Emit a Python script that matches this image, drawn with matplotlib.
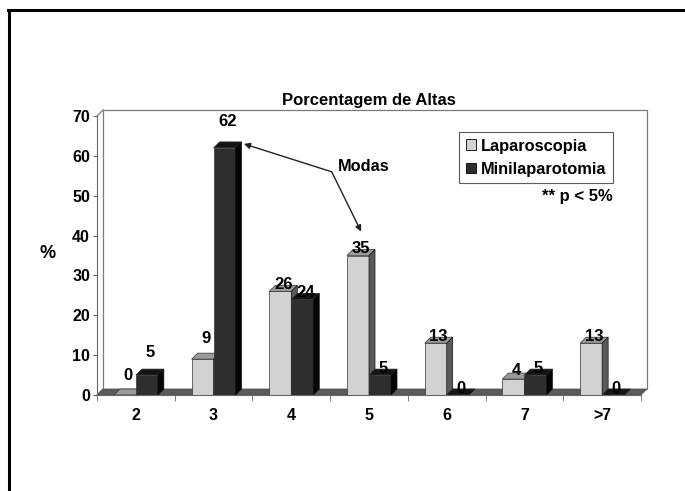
import numpy as np
import matplotlib
matplotlib.use("Agg")
import matplotlib.pyplot as plt
from matplotlib.patches import Polygon, Patch
from matplotlib.lines import Line2D

plt.rcParams['font.family'] = ['Liberation Sans', 'DejaVu Sans']
plt.rcParams['font.weight'] = 'bold'

# data
categories = ["2", "3", "4", "5", "6", "7", ">7"]
laparoscopia = [0, 9, 26, 35, 13, 4, 13]
minilaparotomia = [5, 62, 24, 5, 0, 5, 0]
series_names = ["Laparoscopia", "Minilaparotomia"]
title = "Porcentagem de Altas"

# label lift above bar top (points), as in the original
lift_lap = [14, 15, 5, 5, 5, 6, 5]
lift_mini = [16, 19, 5, 5, 5, 5, 5]

# styles (front, top, side)
light_faces = ("#d2d2d2", "#9a9a9a", "#5a5a5a")
dark_faces = ("#2e2e2e", "#141414", "#050505")

W, H = 685, 491
fig = plt.figure(figsize=(W / 100, H / 100), dpi=100)
ax = fig.add_axes([97 / W, 1 - 395 / H, (641 - 97) / W, (395 - 116) / H])
ax.set_xlim(-0.5, len(categories) - 0.5)
ax.set_ylim(0, 70)

# depth of the 3d effect in data units (~6 px)
dx = 6 / (544 / len(categories))
dy = 6 / (279 / 70)
bw = 0.283

x0, x1 = -0.5, len(categories) - 0.5

# back wall
ax.add_patch(Polygon([[x0 + dx, dy], [x1 + dx, dy], [x1 + dx, 70 + dy], [x0 + dx, 70 + dy]],
                     closed=True, fc="white", ec="#7a7a7a", lw=0.9, clip_on=False, zorder=1))
ax.plot([x0, x0 + dx], [70, 70 + dy], color="#7a7a7a", lw=0.9, clip_on=False, zorder=2)
ax.plot([x0, x0 + dx], [0, dy], color="#7a7a7a", lw=0.9, clip_on=False, zorder=2)
# floor
ax.add_patch(Polygon([[x0, 0], [x1, 0], [x1 + dx, dy], [x0 + dx, dy]],
                     closed=True, fc="#5a5a5a", ec="#555555", lw=0.5, clip_on=False, zorder=2))


def bar3d(xl, h, faces, z):
    front, top, side = faces
    ax.add_patch(Polygon([[xl, 0], [xl + bw, 0], [xl + bw, h], [xl, h]],
                         closed=True, fc=front, ec="#333333", lw=0.5, clip_on=False, zorder=z))
    ax.add_patch(Polygon([[xl, h], [xl + bw, h], [xl + bw + dx, h + dy], [xl + dx, h + dy]],
                         closed=True, fc=top, ec="#333333", lw=0.5, clip_on=False, zorder=z))
    ax.add_patch(Polygon([[xl + bw, 0], [xl + bw + dx, dy], [xl + bw + dx, h + dy], [xl + bw, h]],
                         closed=True, fc=side, ec="#111111", lw=0.5, clip_on=False, zorder=z))


xs = np.arange(len(categories))
for i in xs:
    bar3d(i - bw, laparoscopia[i], light_faces, 3 + 2 * i)
    bar3d(i, minilaparotomia[i], dark_faces, 4 + 2 * i)
    ax.annotate(str(laparoscopia[i]), (i - bw / 2 + dx / 2, laparoscopia[i]),
                xytext=(0, lift_lap[i]), textcoords="offset points",
                ha="center", va="center", fontsize=12, fontweight="bold", zorder=30,
                annotation_clip=False)
    ax.annotate(str(minilaparotomia[i]), (i + bw / 2 + dx / 2, minilaparotomia[i]),
                xytext=(0, lift_mini[i]), textcoords="offset points",
                ha="center", va="center", fontsize=12, fontweight="bold", zorder=30,
                annotation_clip=False)

# axes
for s in ["top", "right"]:
    ax.spines[s].set_visible(False)
ax.spines["left"].set_color("#666666")
ax.spines["bottom"].set_color("#666666")
ax.spines["left"].set_zorder(25)
ax.spines["bottom"].set_zorder(25)
ax.patch.set_visible(False)
ax.set_yticks(range(0, 80, 10))
ax.set_yticklabels([str(v) for v in range(0, 80, 10)], fontsize=11.5, fontweight="bold")
ax.set_xticks(xs)
ax.set_xticklabels(categories, fontsize=11.5, fontweight="bold")
ax.set_xticks(np.arange(len(categories) + 1) - 0.5, minor=True)
ax.tick_params(axis="x", which="major", length=0, pad=9)
ax.tick_params(axis="x", which="minor", length=4, color="#666666", direction="out")
ax.tick_params(axis="y", length=3, color="#666666", pad=2)

ax.set_title(title, fontsize=12, fontweight="bold", pad=8)
fig.text(48 / W, 1 - 253 / H, "%", fontsize=13, fontweight="bold", ha="center", va="center")

# legend
handles = [Patch(fc=light_faces[0], ec="black", lw=0.6), Patch(fc=dark_faces[0], ec="black", lw=0.6)]
leg = fig.legend(handles, series_names, loc="upper left", bbox_to_anchor=(459 / W, 1 - 132 / H),
                 frameon=True, fancybox=False, fontsize=11.8, handlelength=0.65, handleheight=0.65,
                 handletextpad=0.3, borderpad=0.4, labelspacing=0.5, borderaxespad=0)
leg.get_frame().set_edgecolor("#333333")
leg.get_frame().set_linewidth(0.8)
fig.text(613 / W, 1 - 196 / H, "** p < 5%", fontsize=12, fontweight="bold", ha="right", va="center")

# Modas arrows
jx, jy = 2.52, 56
ax.text(jx + 0.08, jy + 1.3, "Modas", fontsize=11.8, fontweight="bold", ha="left", va="center", zorder=30)
tips = [(1 + bw + dx + 0.03, minilaparotomia[1] + dy - 0.5),
        (3 - bw / 2 + 0.04, laparoscopia[3] + dy + 4.5)]
for tx, ty in tips:
    ax.annotate("", xy=(tx, ty), xytext=(jx, jy), annotation_clip=False, zorder=30,
                arrowprops=dict(arrowstyle="-|>", color="#222222", lw=1.0, mutation_scale=9,
                                shrinkA=0, shrinkB=0))

# outer frame
fig.add_artist(Line2D([8 / W, 1], [1 - 10 / H, 1 - 10 / H], color="black", lw=2.2))
fig.add_artist(Line2D([9 / W, 9 / W], [0, 1 - 10 / H], color="black", lw=2.2))

fig.savefig("out.png", dpi=100)
